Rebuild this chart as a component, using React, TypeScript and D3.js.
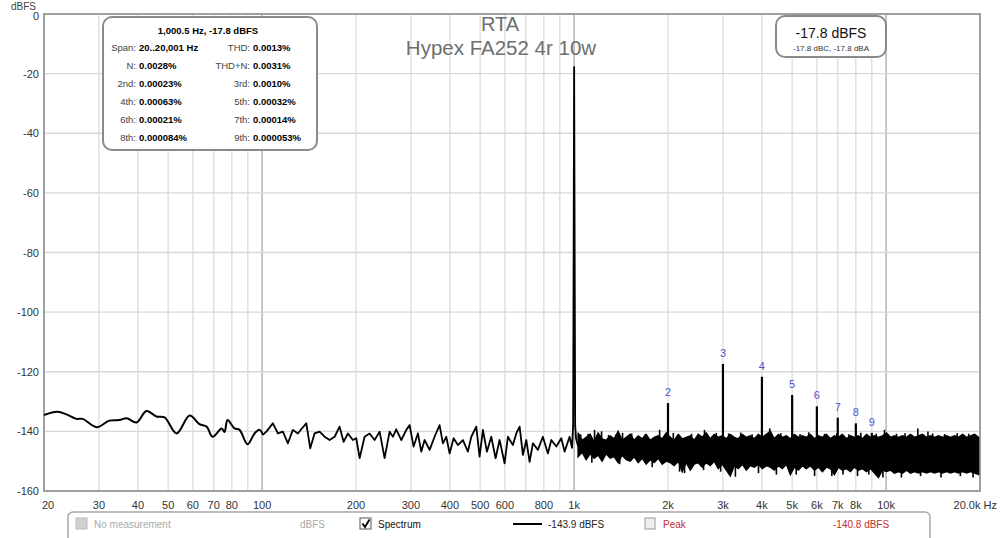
import React, { useEffect, useRef } from 'react';
import * as d3 from 'd3';

const W = 1000;
const H = 538;

// smooth low-frequency part of the trace [Hz, dBFS]
const lowTrace = [
  [20, -134.5], [22.1, -133.4], [23.6, -134.3], [25.4, -135.8], [26.6, -135.8],
  [29.5, -138.6], [32.4, -136.4], [34.9, -136.2], [36.8, -135.6], [39.6, -137.0],
  [42.6, -133.2], [45.9, -135.0], [48.7, -135.3], [53.2, -140.7], [58.6, -134.7],
  [63.0, -137.6], [66.4, -138.4], [69.4, -141.8], [74.2, -139.0], [75.8, -140.2],
  [77.5, -136.2], [81.6, -139.0], [84.7, -139.5], [89.8, -144.3], [94.6, -140.7],
  [98.2, -139.5], [100.6, -141.2],
];

// 100 Hz .. 1 kHz, including the fundamental
const midTrace = [
  [100.6, -141.2], [103.2, -140.1], [108.3, -137.3], [112.4, -140.7], [116.6, -140.1],
  [121, -144.0], [125.5, -139.5], [130.2, -140.7], [133.5, -139.3], [138.6, -137.3],
  [142.7, -145.7], [147.3, -140.7], [152.9, -140.1], [158.6, -141.8], [164.6, -142.9],
  [170.8, -141.8], [177.2, -138.4], [182.5, -143.5], [188.4, -140.7], [195.4, -142.9],
  [200.4, -142.3], [205.4, -149.0], [213.1, -141.8], [221.1, -140.7], [229.4, -142.9],
  [238.1, -140.1], [247, -149.0], [256.3, -140.1], [262.7, -141.8], [269.2, -139.3],
  [279.4, -142.9], [290, -139.5], [297.1, -137.9], [305.9, -145.1], [315.8, -140.7],
  [323.8, -146.8], [331.8, -142.9], [344.3, -146.2], [357.2, -141.8], [370.6, -137.9],
  [379.8, -144.0], [389.4, -141.8], [399, -147.4], [411, -142.3], [424.3, -144.6],
  [440.3, -142.9], [456.8, -146.8], [468.4, -141.8], [485.9, -138.4], [497.9, -148.5],
  [510.3, -139.5], [525.5, -146.8], [542.8, -141.8], [560.3, -149.0], [577.1, -142.9],
  [598.8, -150.7], [613.6, -141.8], [636.6, -144.6], [652.8, -140.7], [669, -138.4],
  [685.5, -147.9], [702.9, -142.9], [720.2, -150.2], [738, -144.0], [765.6, -146.2],
  [794.3, -141.8], [824.1, -147.4], [845.4, -142.9], [876.9, -145.1], [909.9, -142.3],
  [932.4, -146.8], [967.3, -141.8], [985, -145.5], [993, -138], [1000.5, -17.8],
  [1008, -138], [1015, -142.5], [1030, -145],
];

// dense noise above 1 kHz [Hz, upper dBFS, lower dBFS]
const noiseBand = [
  [1030, -140.5, -148.5], [1061, -143.0, -147.0], [1093, -142.0, -149.5], [1126, -141.0, -147.5],
  [1159, -143.5, -149.0], [1194, -140.5, -148.0], [1230, -142.5, -150.0], [1267, -143.0, -147.5],
  [1305, -141.5, -149.0], [1344, -142.5, -148.5], [1384, -140.0, -150.5], [1426, -143.0, -148.0],
  [1469, -142.0, -149.5], [1513, -141.0, -150.0], [1558, -143.0, -148.5], [1605, -141.5, -150.5],
  [1653, -142.5, -149.0], [1702, -141.0, -151.0], [1754, -143.0, -149.5], [1806, -142.0, -150.5],
  [1860, -141.5, -149.0], [1916, -142.5, -151.0], [1974, -140.5, -150.0], [2033, -142.0, -150.5],
  [2094, -143.0, -151.5], [2157, -141.0, -150.0], [2221, -142.5, -153.5], [2288, -142.0, -150.5],
  [2357, -141.5, -153.0], [2427, -143.0, -151.0], [2500, -141.0, -150.5], [2575, -142.0, -152.0],
  [2652, -140.5, -150.5], [2732, -142.5, -151.5], [2814, -141.0, -150.0], [2898, -142.0, -152.5],
  [2985, -141.5, -151.0], [3075, -142.5, -153.0], [3167, -141.0, -155.0], [3262, -142.0, -151.5],
  [3360, -142.5, -152.5], [3461, -141.0, -151.0], [3565, -142.0, -153.0], [3671, -141.5, -151.5],
  [3782, -142.5, -152.0], [3895, -141.0, -151.0], [4012, -142.0, -152.5], [4132, -141.0, -151.5],
  [4256, -140.0, -152.0], [4384, -142.5, -153.0], [4515, -141.0, -151.5], [4651, -142.0, -152.5],
  [4790, -141.5, -151.0], [4934, -142.5, -154.5], [5082, -141.0, -152.0], [5235, -142.0, -153.0],
  [5392, -141.5, -151.5], [5553, -142.0, -152.5], [5720, -141.0, -151.5], [5892, -142.5, -153.0],
  [6068, -141.5, -152.0], [6250, -142.0, -153.5], [6438, -141.0, -152.0], [6631, -142.5, -152.5],
  [6830, -141.5, -154.5], [7035, -142.0, -152.0], [7246, -141.0, -153.0], [7463, -142.5, -152.5],
  [7687, -141.5, -153.5], [7918, -142.0, -152.0], [8155, -141.5, -153.0], [8400, -142.5, -152.5],
  [8652, -141.0, -153.5], [8911, -142.0, -152.5], [9179, -141.5, -154.0], [9454, -142.0, -155.5],
  [9738, -141.5, -153.0], [10030, -140.5, -153.5], [10331, -142.0, -153.0], [10641, -141.5, -154.0],
  [10960, -142.0, -153.5], [11289, -141.5, -154.0], [11627, -142.0, -153.0], [11976, -141.0, -154.0],
  [12335, -142.0, -153.5], [12705, -141.5, -154.0], [13087, -141.0, -153.5], [13479, -142.0, -154.0],
  [13884, -141.5, -153.5], [14300, -142.0, -154.0], [14729, -141.5, -153.5], [15171, -142.0, -154.0],
  [15626, -141.5, -153.5], [16095, -142.0, -154.0], [16578, -141.5, -153.5], [17075, -142.0, -154.0],
  [17588, -141.0, -153.5], [18115, -142.0, -154.0], [18659, -141.5, -153.5], [19218, -141.0, -154.0],
  [19795, -142.0, -154.5],
];

// isolated noise spikes sticking out of the band [Hz, dBFS]
const noiseSpikes = [
  [1050, -141.0], [1110, -140.8], [1163, -139.5], [1225, -140.0], [1290, -141.2],
  [1365, -141.0], [1430, -140.5], [1530, -140.7], [1690, -141.0], [1880, -139.5],
  [2080, -140.5], [2380, -140.8], [2618, -139.5], [2856, -140.5], [3130, -140.7],
  [3420, -140.4], [3720, -141.0], [4237, -139.0], [4600, -140.6], [5300, -140.9],
  [5650, -140.3], [6350, -140.8], [6950, -140.6], [7600, -141.0], [8300, -140.5],
  [9300, -140.8], [9886, -139.5], [10800, -140.8], [11500, -140.6], [12640, -139.0],
  [13620, -140.0], [14100, -140.7], [15400, -140.9], [16900, -140.6], [18400, -140.8],
  [1140, -150.5], [1400, -151.0], [1780, -152.0], [2178, -153.5], [2260, -154.0],
  [2600, -153.0], [2950, -153.5], [3289, -155.2], [3900, -154.0], [4450, -154.5],
  [5152, -154.5], [5900, -155.0], [6700, -155.0], [7278, -154.5], [8100, -155.0],
  [8800, -154.5], [9773, -155.5], [11200, -155.5], [12900, -155.0], [15000, -155.5],
  [17300, -155.0], [19000, -155.5],
];

// harmonic number, Hz, peak dBFS
const harmonics = [
  [2, 2000, -130.5], [3, 3000, -117.4], [4, 4000, -121.7], [5, 5000, -127.8],
  [6, 6000, -131.6], [7, 7000, -135.4], [8, 8000, -137.3], [9, 9000, -140.5],
];

const freqTicks = [20, 30, 40, 50, 60, 70, 80, 100, 200, 300, 400, 500, 600, 800,
  1000, 2000, 3000, 4000, 5000, 6000, 7000, 8000, 10000];
const freqTickLabels = ['20', '30', '40', '50', '60', '70', '80', '100', '200', '300', '400',
  '500', '600', '800', '1k', '2k', '3k', '4k', '5k', '6k', '7k', '8k', '10k'];
const dbTicks = [0, -20, -40, -60, -80, -100, -120, -140, -160];

const infoTitle = '1,000.5 Hz, -17.8 dBFS';
const infoRows = [
  ['Span:', '20..20,001 Hz', 'THD:', '0.0013%'],
  ['N:', '0.0028%', 'THD+N:', '0.0031%'],
  ['2nd:', '0.00023%', '3rd:', '0.0010%'],
  ['4th:', '0.00063%', '5th:', '0.00032%'],
  ['6th:', '0.00021%', '7th:', '0.00014%'],
  ['8th:', '0.000084%', '9th:', '0.000053%'],
];

const FONT = 'Arial, "Liberation Sans", sans-serif';

const App = () => {
  const ref = useRef(null);

  useEffect(() => {
    const svg = d3.select(ref.current);
    svg.selectAll('*').remove();

    const x = d3.scaleLog().domain([20, 20000]).range([44, 980]);
    const y = d3.scaleLinear().domain([-160, 0]).range([491, 14]);

    svg.append('rect').attr('width', W).attr('height', H).attr('fill', '#fff');

    // grid
    const grid = svg.append('g');
    x.ticks().filter(f => f > 20 && f < 20000).forEach(f => {
      const decade = f === 100 || f === 1000 || f === 10000;
      grid.append('line')
        .attr('x1', x(f)).attr('x2', x(f))
        .attr('y1', y(0)).attr('y2', y(-160))
        .attr('stroke', decade ? '#a8a8a8' : '#dcdcdc')
        .attr('stroke-width', 1.3);
    });
    dbTicks.slice(1, -1).forEach(v => {
      grid.append('line')
        .attr('x1', x(20)).attr('x2', x(20000))
        .attr('y1', y(v)).attr('y2', y(v))
        .attr('stroke', '#d8d8d8').attr('stroke-width', 1.3);
    });

    // frame
    svg.append('rect')
      .attr('x', x(20)).attr('y', y(0))
      .attr('width', x(20000) - x(20)).attr('height', y(-160) - y(0))
      .attr('fill', 'none').attr('stroke', '#a0a0a0').attr('stroke-width', 2);

    // axis labels
    svg.append('text').attr('x', 11).attr('y', 9.5).text('dBFS')
      .style('font-family', FONT).style('font-size', '10px').attr('fill', '#444');
    dbTicks.forEach(v => {
      svg.append('text').attr('x', 39).attr('y', y(v) + 4 + (v === 0 ? 1.5 : 0))
        .attr('text-anchor', 'end').text(v)
        .style('font-family', FONT).style('font-size', '11px').attr('fill', '#333');
    });
    freqTicks.forEach((f, i) => {
      svg.append('text').attr('x', f === 20 ? x(f) + 4 : x(f)).attr('y', 509)
        .attr('text-anchor', 'middle').text(freqTickLabels[i])
        .style('font-family', FONT).style('font-size', '11px').attr('fill', '#333');
    });
    svg.append('text').attr('x', 997).attr('y', 509)
      .attr('text-anchor', 'end').text('20.0k Hz')
      .style('font-family', FONT).style('font-size', '11px').attr('fill', '#333');

    // title
    svg.append('text').attr('x', 500).attr('y', 31).attr('text-anchor', 'middle').text('RTA')
      .style('font-family', FONT).style('font-size', '20px').attr('fill', '#6e6e6e');
    svg.append('text').attr('x', 501).attr('y', 55).attr('text-anchor', 'middle').text('Hypex FA252 4r 10w')
      .style('font-family', FONT).style('font-size', '20.5px').attr('fill', '#6e6e6e');

    // spectrum
    const plot = svg.append('g');
    plot.append('path')
      .attr('d', d3.line().x(d => x(d[0])).y(d => y(d[1])).curve(d3.curveCatmullRom)(lowTrace))
      .attr('fill', 'none').attr('stroke', '#000').attr('stroke-width', 2);
    plot.append('path')
      .attr('d', d3.line().x(d => x(d[0])).y(d => y(d[1]))(midTrace))
      .attr('fill', 'none').attr('stroke', '#000').attr('stroke-width', 1.8)
      .attr('stroke-linejoin', 'round');

    const band = d3.area()
      .x(d => x(d[0]))
      .y0(d => y(d[2]))
      .y1(d => y(d[1]));
    plot.append('path').attr('d', band(noiseBand))
      .attr('fill', '#000').attr('stroke', '#000').attr('stroke-width', 1.4);

    noiseSpikes.forEach(([f, v]) => {
      plot.append('line')
        .attr('x1', x(f)).attr('x2', x(f))
        .attr('y1', y(-147)).attr('y2', y(v))
        .attr('stroke', '#000').attr('stroke-width', 1.6);
    });

    harmonics.forEach(([n, f, v]) => {
      plot.append('line')
        .attr('x1', x(f)).attr('x2', x(f))
        .attr('y1', y(-146)).attr('y2', y(v))
        .attr('stroke', '#000').attr('stroke-width', 2.2);
      plot.append('text')
        .attr('x', x(f)).attr('y', y(v) - 7)
        .attr('text-anchor', 'middle').text(n)
        .style('font-family', FONT).style('font-size', '11px').attr('fill', '#5050d0');
    });

    // info box
    const info = svg.append('g');
    info.append('rect').attr('x', 103).attr('y', 17).attr('width', 214).attr('height', 133)
      .attr('rx', 9).attr('fill', '#fff').attr('stroke', '#8a8a8a').attr('stroke-width', 2);
    info.append('text').attr('x', 208).attr('y', 34).attr('text-anchor', 'middle').text(infoTitle)
      .style('font-family', FONT).style('font-size', '9.5px').style('font-weight', 'bold');
    infoRows.forEach((r, i) => {
      const yy = 51 + i * 18;
      const t = (xx, s, anchor, bold) => info.append('text')
        .attr('x', xx).attr('y', yy).attr('text-anchor', anchor).text(s)
        .style('font-family', FONT).style('font-size', '9.5px')
        .style('font-weight', bold ? 'bold' : 'normal')
        .attr('fill', bold ? '#000' : '#444');
      t(136, r[0], 'end', false);
      t(139, r[1], 'start', true);
      t(250, r[2], 'end', false);
      t(253, r[3], 'start', true);
    });

    // level box
    svg.append('rect').attr('x', 776).attr('y', 16).attr('width', 110).attr('height', 41)
      .attr('rx', 9).attr('fill', '#fff').attr('stroke', '#8a8a8a').attr('stroke-width', 2);
    svg.append('text').attr('x', 831).attr('y', 38).attr('text-anchor', 'middle').text('-17.8 dBFS')
      .style('font-family', FONT).style('font-size', '14px').attr('fill', '#111');
    svg.append('text').attr('x', 831).attr('y', 51).attr('text-anchor', 'middle').text('-17.8 dBC, -17.8 dBA')
      .style('font-family', FONT).style('font-size', '8px').attr('fill', '#333');

    // legend bar
    const lg = svg.append('g');
    lg.append('rect').attr('x', 68).attr('y', 512).attr('width', 862).attr('height', 34)
      .attr('rx', 5).attr('fill', '#fff').attr('stroke', '#a8a8a8').attr('stroke-width', 1.5);
    const lt = (xx, s, color) => lg.append('text').attr('x', xx).attr('y', 528).text(s)
      .style('font-family', FONT).style('font-size', '10px').attr('fill', color);
    lg.append('rect').attr('x', 76).attr('y', 518).attr('width', 11).attr('height', 11)
      .attr('fill', '#d0d0d0').attr('stroke', '#bbb');
    lt(94, 'No measurement', '#aaa');
    lt(300, 'dBFS', '#aaa');
    lg.append('rect').attr('x', 360).attr('y', 518).attr('width', 11).attr('height', 11)
      .attr('fill', '#fff').attr('stroke', '#555');
    lg.append('path').attr('d', 'M362.5,523.5 L365,527 L369.5,519.5')
      .attr('fill', 'none').attr('stroke', '#000').attr('stroke-width', 1.8);
    lt(378, 'Spectrum', '#111');
    lg.append('line').attr('x1', 513).attr('x2', 542).attr('y1', 524).attr('y2', 524)
      .attr('stroke', '#000').attr('stroke-width', 2);
    lt(548, '-143.9 dBFS', '#222');
    lg.append('rect').attr('x', 645).attr('y', 518).attr('width', 10).attr('height', 11)
      .attr('fill', '#eee').attr('stroke', '#999');
    lt(663, 'Peak', '#c03030');
    lt(833, '-140.8 dBFS', '#c03030');
  }, []);

  return (
    <div style={{ position: 'absolute', left: 0, top: 0 }}>
      <svg ref={ref} width={W} height={H} style={{ display: 'block' }} />
    </div>
  );
};

export default App;
